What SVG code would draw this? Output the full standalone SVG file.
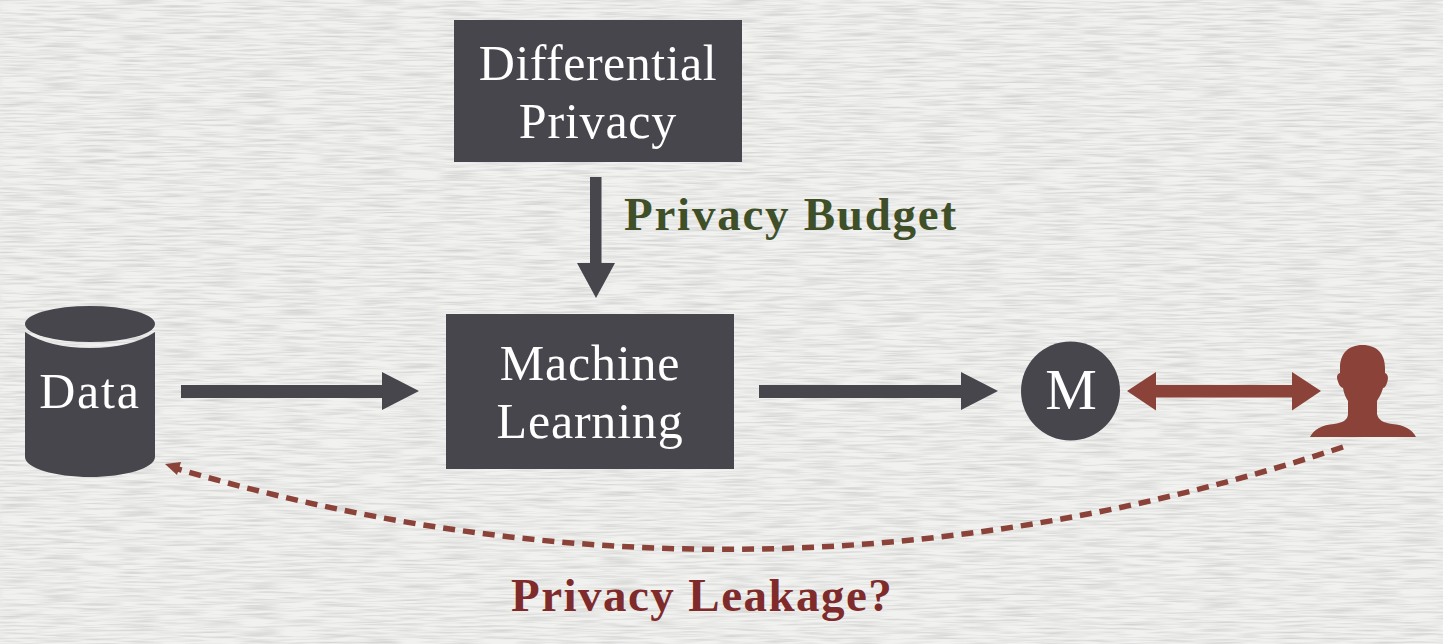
<svg xmlns="http://www.w3.org/2000/svg" width="1443" height="644" viewBox="0 0 1443 644">
<style>
.box{fill:#47464c}
.w{font-family:"Liberation Serif",serif;fill:#fff;font-size:50px;text-anchor:middle;letter-spacing:0.8px}
.b{font-family:"Liberation Serif",serif;font-weight:bold;font-size:47px}
.dark{fill:#47464c}
.red{fill:#8a4239}
</style>
<defs>
<filter id="paper" x="0" y="0" width="100%" height="100%" color-interpolation-filters="sRGB">
<feTurbulence type="fractalNoise" baseFrequency="0.025 0.5" numOctaves="2" seed="4"/>
<feColorMatrix type="matrix" values="0 0 0 0 0  0 0 0 0 0  0 0 0 0 0  1.6 0 0 0 -0.62"/>
</filter>
</defs>
<rect id="background" width="1443" height="644" fill="#f1f1f0"/>
<rect width="1443" height="644" fill="#b8b8b8" filter="url(#paper)" opacity="0.16"/>
<g id="connectors">
<polygon class="dark" points="590,177 601.500,177 601.500,263 615,263 596,298 577,263 590,263"/>
<polygon class="dark" points="181,385 382,385 382,372 419,391 382,410 382,398 181,398"/>
<polygon class="dark" points="759,385 961,385 961,372 998,391 961,410 961,398 759,398"/>
<polygon class="red" points="1127,391 1156,372 1156,385 1292,385 1292,372 1321,391 1292,410.500 1292,397.500 1156,397.500 1156,410.500"/>
<path d="M1343,447 Q760,640 178,469" fill="none" stroke="#8a4239" stroke-width="5.500" stroke-dasharray="12 8"/>
<polygon class="red" points="165,464 181,462 177,475"/>
</g>
<g id="differential-privacy">
<rect class="box" x="454" y="20" width="288" height="142"/>
<text class="w" x="598" y="80" style="letter-spacing:0.5px">Differential</text>
<text class="w" x="598" y="138">Privacy</text>
</g>
<g id="machine-learning">
<rect class="box" x="446" y="314" width="288" height="155"/>
<text class="w" x="590" y="380">Machine</text>
<text class="w" x="590" y="438">Learning</text>
</g>
<g id="data">
<path class="box" d="M25,332 Q49,348 90,348 Q131,348 155,332 V457 C155,468 125,477 90,477 C55,477 25,468 25,457 Z"/>
<ellipse class="box" cx="90" cy="324" rx="65" ry="18"/>
<text class="w" x="90" y="408" style="letter-spacing:1.800px">Data</text>
</g>
<g id="model">
<circle class="box" cx="1070.500" cy="391" r="49.500"/>
<text class="w" x="1071" y="409" style="letter-spacing:0;font-size:58px">M</text>
</g>
<g id="user">
<path class="red" d="M1362.500,345 C1377,345 1385,354 1385,368 V373 C1388,374 1388.500,378 1387.500,381 C1386.500,385 1385,388 1383,388 C1381,395 1378,399 1377,401 V414 C1378,420 1384,423 1392,424 C1404,425 1412,429 1416,437 H1310 C1314,429 1322,425 1334,424 C1342,423 1348,420 1348,414 V401 C1346,398 1344,394 1343,388 C1340,387 1338.500,384 1337.500,380 C1336.500,377 1337,374 1340,373 V368 C1340,354 1348,345 1362.500,345 Z"/>
</g>
<text id="privacy-budget" class="b" x="624" y="230" fill="#3f5029" style="letter-spacing:1.750px">Privacy Budget</text>
<text id="privacy-leakage" class="b" x="511" y="611" fill="#7f2b2b" style="letter-spacing:1.450px">Privacy Leakage?</text>
</svg>
